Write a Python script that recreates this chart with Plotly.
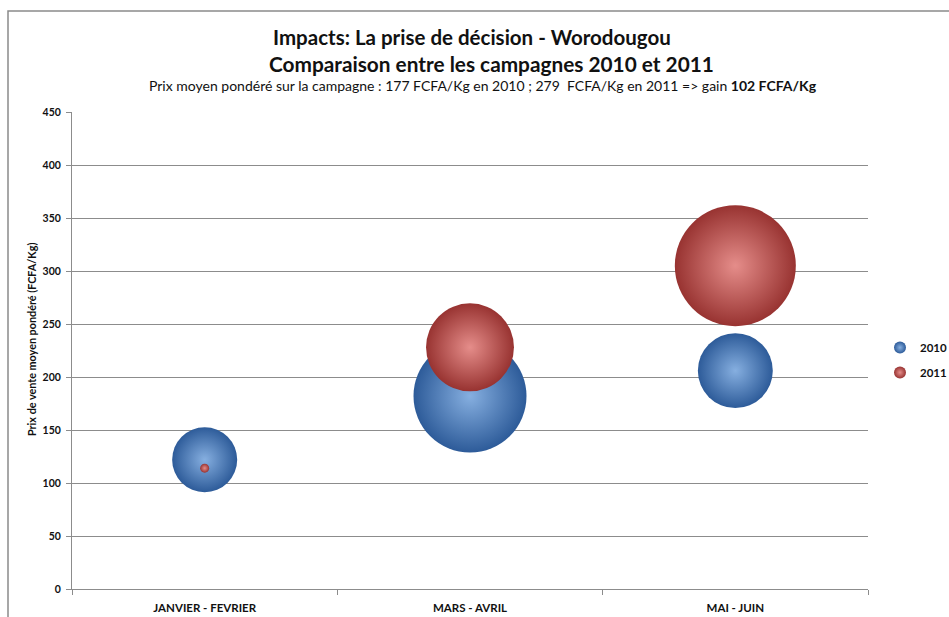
import plotly.graph_objects as go

# Campaign periods and weighted average selling prices (FCFA/Kg)
periods = ["JANVIER - FEVRIER", "MARS - AVRIL", "MAI - JUIN"]
price_2010 = [122, 182, 206]
price_2011 = [114, 228, 305]
# Volumes traded per period (bubble areas)
volume_2010 = [104, 314, 138]
volume_2011 = [2, 190, 360]
y_ticks = [0, 50, 100, 150, 200, 250, 300, 350, 400, 450]

W, H = 949, 617
ML, MR, MT, MB = 72, 81, 112, 28
PW, PH = W - ML - MR, H - MT - MB
MAX_DIAM = 121
sizeref = 2.0 * max(volume_2010 + volume_2011) / MAX_DIAM ** 2

FONT = "Lato"
GRID = "#8c8c8c"


def px_x(px):
    return (px - ML) / PW


def px_y(py):
    return (H - MB - py) / PH


fig = go.Figure()

series = [
    ("2010", price_2010, volume_2010, "#2d5b99", "#86afe0"),
    ("2011", price_2011, volume_2011, "#983331", "#e58d8a"),
]
for name, prices, volumes, edge, centre in series:
    fig.add_trace(go.Scatter(
        x=periods, y=prices, mode="markers", name=name,
        legendgroup=name,
        marker=dict(
            size=volumes, sizemode="area", sizeref=sizeref, sizemin=2,
            color=edge, line=dict(width=0),
            gradient=dict(type="radial", color=centre),
            opacity=1,
        ),
        hovertemplate="%{x}<br>%{y} FCFA/Kg<extra>" + name + "</extra>",
    ))

fig.update_layout(
    width=W, height=H,
    margin=dict(l=ML, r=MR, t=MT, b=MB, autoexpand=False),
    paper_bgcolor="white", plot_bgcolor="white",
    font=dict(family=FONT, color="#111"),
    showlegend=True,
    legend=dict(
        x=px_x(880), y=px_y(360), xanchor="left", yanchor="middle",
        font=dict(family=FONT, size=11.5, weight="bold", color="#111"),
        itemsizing="constant", tracegroupgap=6, itemwidth=30,
        bgcolor="rgba(0,0,0,0)",
    ),
    xaxis=dict(
        type="category", range=[-0.5, 2.5],
        showgrid=False, showline=True, linecolor=GRID, linewidth=1,
        ticks="outside", tickson="boundaries", ticklen=5, tickcolor=GRID,
        ticklabelstandoff=8,
        tickfont=dict(family=FONT, size=11.5, weight="bold", color="#111"),
        zeroline=False, fixedrange=True,
    ),
    yaxis=dict(
        range=[0, 450], tickvals=y_ticks,
        showgrid=True, gridcolor=GRID, gridwidth=1,
        showline=True, linecolor=GRID, linewidth=1,
        ticks="outside", ticklen=5, tickcolor=GRID,
        ticklabelstandoff=3,
        tickfont=dict(family=FONT, size=10.5, weight="bold", color="#111"),
        zeroline=False, fixedrange=True,
    ),
    annotations=[
        dict(text="<b>Impacts: La prise de décision - Worodougou</b>",
             xref="paper", yref="paper", x=px_x(472), y=px_y(37),
             xanchor="center", yanchor="middle", showarrow=False,
             font=dict(family=FONT, size=20.5, color="#111")),
        dict(text="<b>Comparaison entre les campagnes 2010 et 2011</b>",
             xref="paper", yref="paper", x=px_x(492), y=px_y(63),
             xanchor="center", yanchor="middle", showarrow=False,
             font=dict(family=FONT, size=20.8, color="#111")),
        dict(text="Prix moyen pondéré sur la campagne : 177 FCFA/Kg en 2010 ; 279  FCFA/Kg en 2011 => gain <b>102 FCFA/Kg</b>",
             xref="paper", yref="paper", x=px_x(483), y=px_y(86),
             xanchor="center", yanchor="middle", showarrow=False,
             font=dict(family=FONT, size=14, color="#111")),
        dict(text="<b>Prix de vente moyen pondéré (FCFA/Kg)</b>",
             xref="paper", yref="paper", x=px_x(31), y=px_y(340),
             xanchor="center", yanchor="middle", showarrow=False,
             textangle=-90,
             font=dict(family=FONT, size=10.8, color="#111")),
    ],
    shapes=[
        dict(type="rect", xref="paper", yref="paper",
             x0=px_x(8), x1=px_x(975), y0=px_y(11), y1=px_y(640),
             line=dict(color="#8a8a8a", width=1.5), fillcolor="rgba(0,0,0,0)",
             layer="below"),
    ],
)

fig.write_html("out.html")
